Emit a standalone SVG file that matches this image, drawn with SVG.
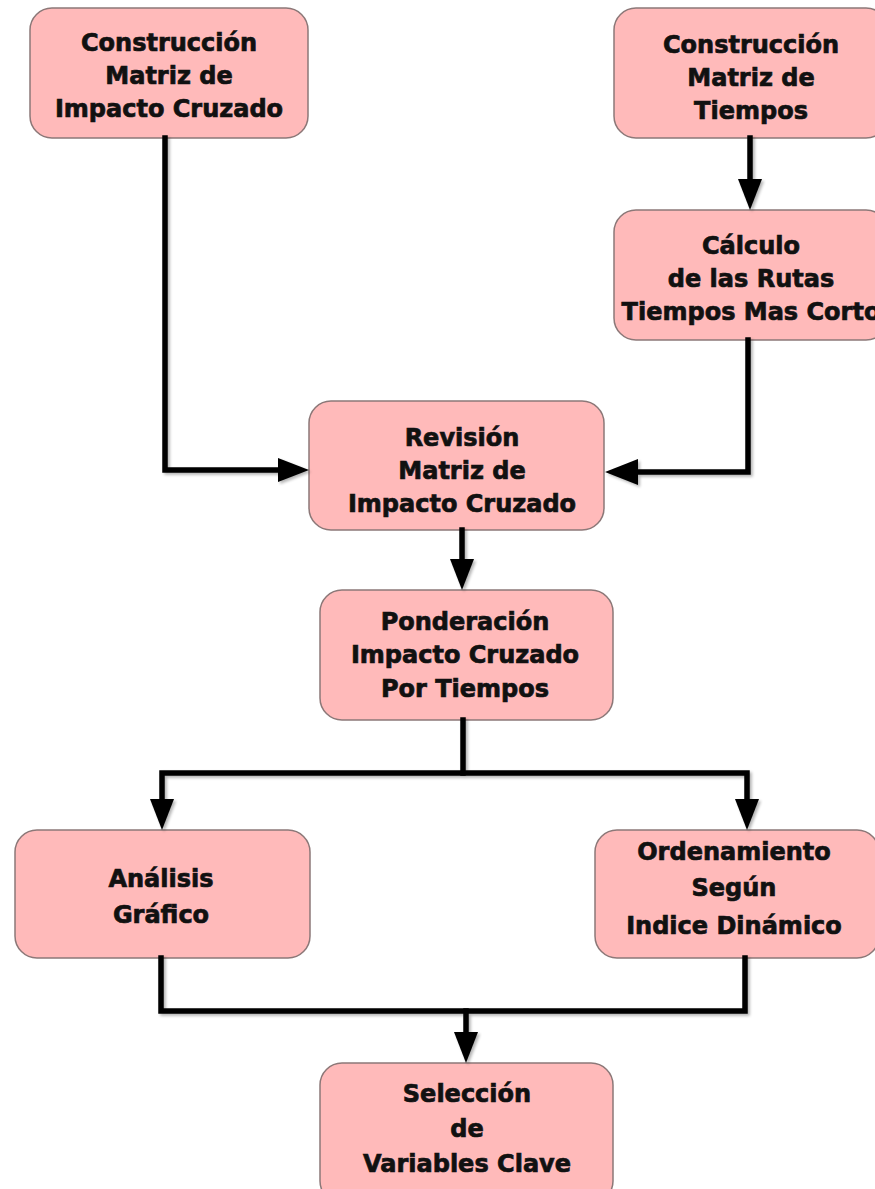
<svg xmlns="http://www.w3.org/2000/svg" width="875" height="1189" viewBox="0 0 875 1189">
  <style>
    .box { fill: #ffbaba; stroke: #8c7878; stroke-width: 1.5; }
    .lbl { font-family: "DejaVu Sans", "Liberation Sans", sans-serif; font-weight: bold; font-size: 24px; fill: #111; stroke: #111; stroke-width: 0.7; text-anchor: middle; }
    .wire { fill: none; stroke: #000; stroke-width: 5.5; stroke-linejoin: miter; stroke-linecap: square; }
    .head { fill: #000; }
  </style>
  <defs>
    <filter id="shade" x="-5%" y="-5%" width="110%" height="110%">
      <feGaussianBlur in="SourceAlpha" stdDeviation="1.5"/>
      <feOffset dx="2" dy="2" result="b"/>
      <feComponentTransfer><feFuncA type="linear" slope="0.3"/></feComponentTransfer>
      <feMerge><feMergeNode/><feMergeNode in="SourceGraphic"/></feMerge>
    </filter>
  </defs>
  <rect width="875" height="1189" fill="#fff"/>

  <!-- nodes -->
  <g id="construccion-impacto">
    <rect class="box" x="30" y="8" width="278" height="130" rx="22"/>
    <text class="lbl" x="169" y="51">Construcción</text>
    <text class="lbl" x="169" y="84">Matriz de</text>
    <text class="lbl" x="169" y="117">Impacto Cruzado</text>
  </g>
  <g id="construccion-tiempos">
    <rect class="box" x="614" y="8" width="274" height="130" rx="22"/>
    <text class="lbl" x="751" y="53">Construcción</text>
    <text class="lbl" x="751" y="86">Matriz de</text>
    <text class="lbl" x="751" y="119">Tiempos</text>
  </g>
  <g id="calculo-rutas">
    <rect class="box" x="614" y="210" width="274" height="130" rx="22"/>
    <text class="lbl" x="751" y="254">Cálculo</text>
    <text class="lbl" x="751" y="287">de las Rutas</text>
    <text class="lbl" x="751" y="320">Tiempos Mas Corto</text>
  </g>
  <g id="revision">
    <rect class="box" x="309" y="401" width="295" height="129" rx="22"/>
    <text class="lbl" x="462" y="446">Revisión</text>
    <text class="lbl" x="462" y="479">Matriz de</text>
    <text class="lbl" x="462" y="512">Impacto Cruzado</text>
  </g>
  <g id="ponderacion">
    <rect class="box" x="320" y="590" width="293" height="130" rx="22"/>
    <text class="lbl" x="465" y="630">Ponderación</text>
    <text class="lbl" x="465" y="663">Impacto Cruzado</text>
    <text class="lbl" x="465" y="697">Por Tiempos</text>
  </g>
  <g id="analisis">
    <rect class="box" x="15" y="830" width="295" height="128" rx="22"/>
    <text class="lbl" x="161" y="887">Análisis</text>
    <text class="lbl" x="161" y="923">Gráfico</text>
  </g>
  <g id="ordenamiento">
    <rect class="box" x="595" y="830" width="284" height="128" rx="22"/>
    <text class="lbl" x="734" y="860">Ordenamiento</text>
    <text class="lbl" x="734" y="896">Según</text>
    <text class="lbl" x="734" y="934">Indice Dinámico</text>
  </g>
  <g id="seleccion">
    <rect class="box" x="320" y="1063" width="293" height="140" rx="22"/>
    <text class="lbl" x="467" y="1102">Selección</text>
    <text class="lbl" x="467" y="1137">de</text>
    <text class="lbl" x="467" y="1172">Variables Clave</text>
  </g>

  <!-- connectors -->
  <g id="connectors" filter="url(#shade)">
    <polyline class="wire" points="165,138 165,470 282,470"/>
    <polygon class="head" points="309,470 278,458 278,482"/>

    <line class="wire" x1="750" y1="138" x2="750" y2="182"/>
    <polygon class="head" points="750,210 738,179 762,179"/>

    <polyline class="wire" points="748,340 748,472 636,472"/>
    <polygon class="head" points="605,472 638,459 638,485"/>

    <line class="wire" x1="462" y1="530" x2="462" y2="562"/>
    <polygon class="head" points="462,590 450,559 474,559"/>

    <polyline class="wire" points="463,720 463,773"/>
    <polyline class="wire" points="162,802 162,773 747,773 747,802"/>
    <polygon class="head" points="162,830 150,799 174,799"/>
    <polygon class="head" points="747,830 735,799 759,799"/>

    <polyline class="wire" points="161,958 161,1011 745,1011 745,958"/>
    <line class="wire" x1="466" y1="1011" x2="466" y2="1035"/>
    <polygon class="head" points="466,1063 454,1032 478,1032"/>
  </g>
</svg>
